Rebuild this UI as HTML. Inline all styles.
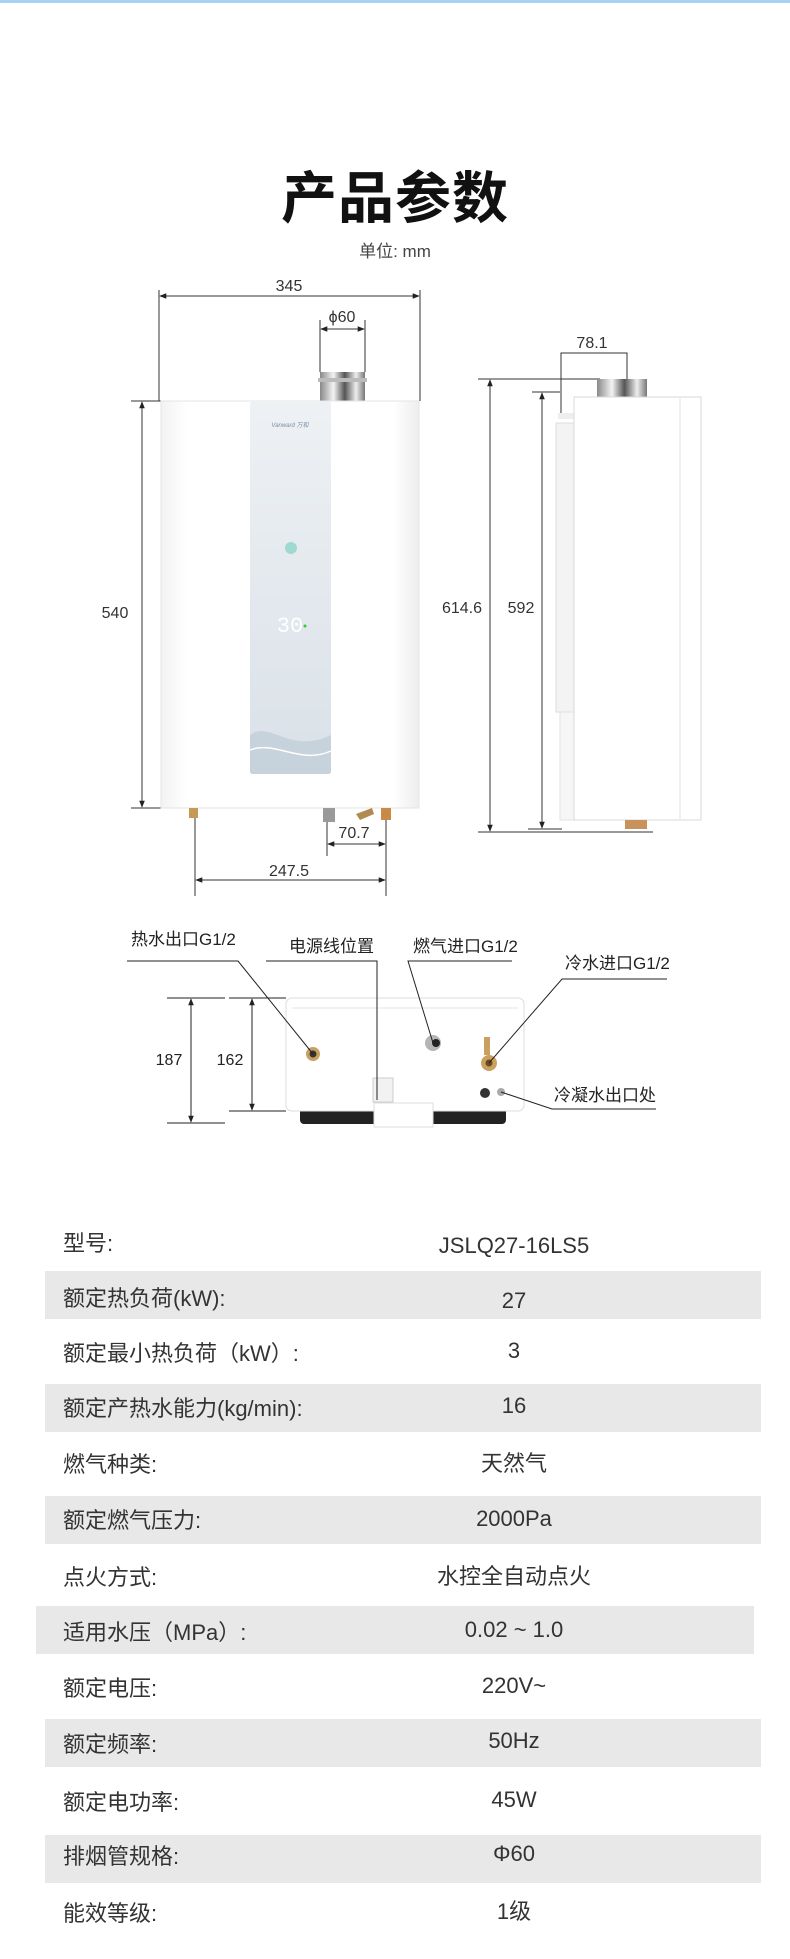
<!DOCTYPE html>
<html><head><meta charset="utf-8">
<style>
html,body{margin:0;padding:0;background:#fff;}
body{width:790px;height:1959px;position:relative;overflow:hidden;font-family:"Liberation Sans","Noto Sans CJK SC",sans-serif;color:#333;}
.t{position:absolute;white-space:nowrap;}
.stripe{position:absolute;left:45px;width:716px;height:48px;background:#e8e8e8;}
.lab{position:absolute;left:63px;font-size:22px;color:#333;transform:translateY(-50%);white-space:nowrap;}
.val{position:absolute;left:514px;font-size:22px;color:#333;transform:translate(-50%,-50%);white-space:nowrap;}
</style></head><body>
<div style="position:absolute;left:0;top:0;width:790px;height:3px;background:#a6d2f5"></div>
<div class="t" style="left:0;width:790px;text-align:center;top:154px;font-size:56px;font-weight:bold;color:#111;letter-spacing:1px">产品参数</div>
<div class="t" style="left:0;width:790px;text-align:center;top:237px;font-size:17px;color:#444">单位: mm</div>

<svg style="position:absolute;left:0;top:0" width="790" height="1250" xmlns="http://www.w3.org/2000/svg" font-family="Liberation Sans, Noto Sans CJK SC, sans-serif">
<defs>
<linearGradient id="pnl" x1="0" y1="0" x2="0" y2="1"><stop offset="0" stop-color="#eef1f4"/><stop offset="1" stop-color="#d9e1e8"/></linearGradient>
<linearGradient id="pipe" x1="0" y1="0" x2="1" y2="0"><stop offset="0" stop-color="#888"/><stop offset=".3" stop-color="#f4f4f4"/><stop offset=".55" stop-color="#555"/><stop offset=".8" stop-color="#eee"/><stop offset="1" stop-color="#777"/></linearGradient>
<linearGradient id="body" x1="0" y1="0" x2="1" y2="0"><stop offset="0" stop-color="#f2f2f2"/><stop offset=".1" stop-color="#fff"/><stop offset=".9" stop-color="#fff"/><stop offset="1" stop-color="#ededed"/></linearGradient>
<marker id="ar" viewBox="0 0 10 10" refX="9" refY="5" markerWidth="7" markerHeight="7" orient="auto-start-reverse"><path d="M0,1 L10,5 L0,9 z" fill="#222"/></marker>
</defs>
<g stroke="#333" stroke-width="1" fill="none">
<line x1="159" y1="290" x2="159" y2="401"/><line x1="420" y1="290" x2="420" y2="401"/>
<line x1="160" y1="296" x2="419" y2="296" marker-start="url(#ar)" marker-end="url(#ar)"/>
<line x1="320" y1="320" x2="320" y2="372"/><line x1="365" y1="320" x2="365" y2="372"/>
<line x1="321" y1="329" x2="364" y2="329" marker-start="url(#ar)" marker-end="url(#ar)"/>
<line x1="131" y1="401" x2="161" y2="401"/><line x1="131" y1="808" x2="161" y2="808"/>
<line x1="142" y1="402" x2="142" y2="807" marker-start="url(#ar)" marker-end="url(#ar)"/>
<line x1="327" y1="814" x2="327" y2="856"/><line x1="386" y1="814" x2="386" y2="896"/><line x1="195" y1="817" x2="195" y2="896"/>
<line x1="328" y1="844" x2="385" y2="844" marker-start="url(#ar)" marker-end="url(#ar)"/>
<line x1="196" y1="880" x2="385" y2="880" marker-start="url(#ar)" marker-end="url(#ar)"/>
<polyline points="561,413 561,353 627,353 627,379"/>
<line x1="478" y1="379" x2="600" y2="379"/><line x1="478" y1="832" x2="653" y2="832"/>
<line x1="490" y1="380" x2="490" y2="831" marker-start="url(#ar)" marker-end="url(#ar)"/>
<line x1="532" y1="392" x2="560" y2="392"/><line x1="528" y1="829" x2="562" y2="829"/>
<line x1="542" y1="393" x2="542" y2="828" marker-start="url(#ar)" marker-end="url(#ar)"/>
</g>
<g font-size="16" fill="#333" text-anchor="middle">
<text x="289" y="291">345</text>
<text x="342" y="322">ϕ60</text>
<text x="115" y="618">540</text>
<text x="354" y="838">70.7</text>
<text x="289" y="876">247.5</text>
<text x="592" y="348">78.1</text>
<text x="462" y="613">614.6</text>
<text x="521" y="613">592</text>
</g>
<rect x="320" y="372" width="45" height="29" fill="url(#pipe)"/>
<rect x="318" y="378" width="49" height="4" fill="#bbb"/>
<rect x="161" y="401" width="258" height="407" fill="url(#body)" stroke="#e4e4e4"/>
<rect x="250" y="401" width="81" height="373" rx="3" fill="url(#pnl)"/>
<path d="M250,735 C270,720 290,755 331,735 L331,771 Q331,774 328,774 L253,774 Q250,774 250,771 Z" fill="#c6d2dc"/>
<path d="M250,750 C275,740 300,765 331,751" stroke="#fff" stroke-width="1.5" fill="none"/>
<text x="290" y="427" font-size="6" fill="#7a8ea6" text-anchor="middle" font-style="italic">Vanward 万和</text>
<circle cx="291" cy="548" r="6" fill="#9fd9d0"/>
<text x="290" y="632" font-size="22" fill="#fff" text-anchor="middle" font-family="Liberation Mono">30</text>
<circle cx="305" cy="626" r="1.5" fill="#3c3"/>
<rect x="189" y="808" width="9" height="10" fill="#c49a55"/>
<rect x="323" y="808" width="12" height="14" fill="#9a9a9a"/>
<path d="M356,814 L372,808 L374,814 L360,820 Z" fill="#b08a50"/>
<rect x="381" y="808" width="10" height="12" fill="#c98a48"/>
<rect x="597" y="379" width="50" height="18" fill="url(#pipe)"/>
<rect x="558" y="413" width="18" height="6" fill="#eee"/>
<rect x="556" y="423" width="20" height="289" fill="#f3f3f3" stroke="#ddd"/>
<rect x="560" y="712" width="14" height="108" fill="#f6f6f6" stroke="#e2e2e2"/>
<rect x="574" y="397" width="127" height="423" fill="#fff" stroke="#d9d9d9"/>
<line x1="680" y1="398" x2="680" y2="819" stroke="#e2e2e2"/>
<rect x="625" y="820" width="22" height="9" fill="#c8935a"/>
<rect x="300" y="1108" width="206" height="16" rx="4" fill="#222"/>
<rect x="286" y="998" width="238" height="113" rx="6" fill="#fff" stroke="#ddd"/>
<path d="M292,1008 L518,1008" stroke="#e6e6e6"/>
<rect x="374" y="1103" width="59" height="24" fill="#fff" stroke="#ddd"/>
<circle cx="313" cy="1054" r="7" fill="#c9a060"/><circle cx="313" cy="1054" r="3.5" fill="#333"/>
<circle cx="433" cy="1043" r="8" fill="#b5b5b5"/><circle cx="436" cy="1043" r="4" fill="#222"/>
<rect x="484" y="1037" width="6" height="18" fill="#c9a060"/><circle cx="489" cy="1063" r="8" fill="#c9a060"/><circle cx="489" cy="1063" r="3.5" fill="#6b4a20"/>
<circle cx="485" cy="1093" r="5" fill="#333"/><circle cx="501" cy="1092" r="4" fill="#aaa"/>
<rect x="373" y="1078" width="20" height="24" fill="#f2f2f2" stroke="#ccc"/>
<g stroke="#222" stroke-width="1" fill="none">
<polyline points="127,961 238,961 313,1054"/>
<polyline points="266,961 377,961 377,1100"/>
<polyline points="512,961 408,961 433,1043"/>
<polyline points="667,979 562,979 489,1063"/>
<polyline points="501,1092 552,1109 656,1109"/>
<line x1="167" y1="998" x2="225" y2="998"/><line x1="167" y1="1123" x2="225" y2="1123"/>
<line x1="229" y1="998" x2="286" y2="998"/><line x1="229" y1="1111" x2="286" y2="1111"/>
<line x1="191" y1="999" x2="191" y2="1122" marker-start="url(#ar)" marker-end="url(#ar)"/>
<line x1="252" y1="999" x2="252" y2="1110" marker-start="url(#ar)" marker-end="url(#ar)"/>
</g>
<g font-size="17" fill="#222">
<text x="131" y="945">热水出口G1/2</text>
<text x="289" y="952">电源线位置</text>
<text x="413" y="952">燃气进口G1/2</text>
<text x="565" y="969">冷水进口G1/2</text>
<text x="554" y="1101">冷凝水出口处</text>
<text x="169" y="1065" text-anchor="middle" font-size="16">187</text>
<text x="230" y="1065" text-anchor="middle" font-size="16">162</text>
</g>
</svg>

<div class="stripe" style="top:1271px"></div>
<div class="stripe" style="top:1384px"></div>
<div class="stripe" style="top:1496px"></div>
<div class="stripe" style="top:1606px;left:36px;width:718px"></div>
<div class="stripe" style="top:1719px"></div>
<div class="stripe" style="top:1835px"></div>

<div class="lab" style="top:1242px">型号:</div><div class="val" style="top:1246px">JSLQ27-16LS5</div>
<div class="lab" style="top:1297px">额定热负荷(kW):</div><div class="val" style="top:1301px">27</div>
<div class="lab" style="top:1352px">额定最小热负荷（kW）:</div><div class="val" style="top:1351px">3</div>
<div class="lab" style="top:1407px">额定产热水能力(kg/min):</div><div class="val" style="top:1406px">16</div>
<div class="lab" style="top:1463px">燃气种类:</div><div class="val" style="top:1462px">天然气</div>
<div class="lab" style="top:1519px">额定燃气压力:</div><div class="val" style="top:1519px">2000Pa</div>
<div class="lab" style="top:1576px">点火方式:</div><div class="val" style="top:1575px">水控全自动点火</div>
<div class="lab" style="top:1631px">适用水压（MPa）:</div><div class="val" style="top:1630px">0.02 ~ 1.0</div>
<div class="lab" style="top:1687px">额定电压:</div><div class="val" style="top:1686px">220V~</div>
<div class="lab" style="top:1743px">额定频率:</div><div class="val" style="top:1741px">50Hz</div>
<div class="lab" style="top:1801px">额定电功率:</div><div class="val" style="top:1800px">45W</div>
<div class="lab" style="top:1855px">排烟管规格:</div><div class="val" style="top:1854px">Φ60</div>
<div class="lab" style="top:1912px">能效等级:</div><div class="val" style="top:1910px">1级</div>
</body></html>
